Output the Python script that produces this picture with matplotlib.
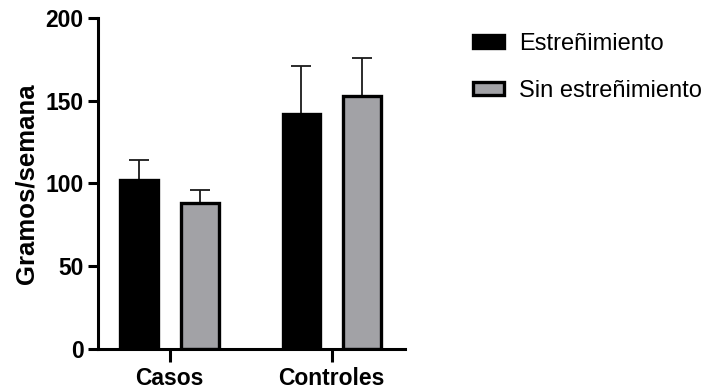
import numpy as np
import matplotlib.pyplot as plt

plt.rcParams['font.family'] = ['Liberation Sans', 'DejaVu Sans']

# Datos: consumo en gramos/semana (media + error superior)
grupos = ["Casos", "Controles"]
series = ["Estreñimiento", "Sin estreñimiento"]
media_estr = [102, 142]
err_estr = [12, 29]
media_sin = [88, 153]
err_sin = [8, 23]

COLORES = ["#000000", "#a2a2a6"]

fig = plt.figure(figsize=(7.16, 3.91), dpi=100)
ax = fig.add_axes([0.1365, 0.1074, 0.4295, 0.8466])

x = np.arange(len(grupos))
ancho = 0.23
desp = 0.188

for i, (medias, errs) in enumerate([(media_estr, err_estr), (media_sin, err_sin)]):
    pos = x + (i * 2 - 1) * desp
    ax.bar(pos, medias, width=ancho, color=COLORES[i], edgecolor="black",
           linewidth=2.4, label=series[i], zorder=2)
    ax.errorbar(pos, medias, yerr=[np.zeros(len(errs)), errs], fmt="none",
                ecolor="#1a1a1a", elinewidth=1.3, capsize=7, capthick=1.3, zorder=1)

ax.set_xlim(-0.443, 1.454)
ax.set_ylim(0, 200)
ax.set_yticks([0, 50, 100, 150, 200])
ax.set_xticks(x)
ax.set_xticklabels(grupos, fontsize=16.5, fontweight="bold")
for t in ax.get_yticklabels():
    t.set_fontsize(16.5)
    t.set_fontweight("bold")
ax.set_ylabel("Gramos/semana", fontsize=18.5, fontweight="bold", labelpad=5)

for lado in ["top", "right"]:
    ax.spines[lado].set_visible(False)
for lado in ["left", "bottom"]:
    ax.spines[lado].set_linewidth(2.2)
ax.tick_params(axis="y", length=7, width=2.2, pad=3)
ax.tick_params(axis="x", length=9, width=2.2, pad=4)

fig.legend(loc="upper left", bbox_to_anchor=(0.631, 0.97), frameon=False,
           fontsize=17, handlelength=1.3, handleheight=0.5, labelspacing=1.05,
           handletextpad=0.65)

plt.savefig("out.png", dpi=100)
